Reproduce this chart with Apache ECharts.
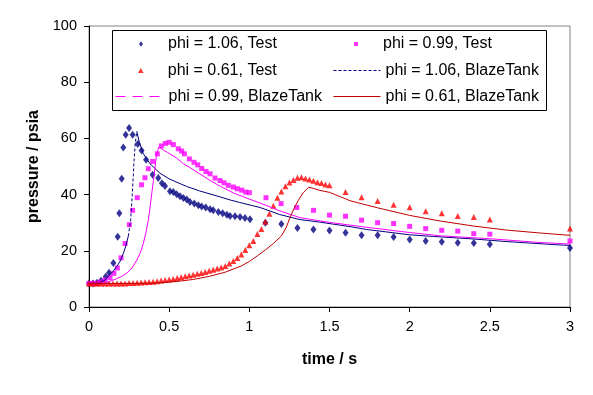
<!DOCTYPE html>
<html>
<head>
<meta charset="utf-8">
<script src="https://cdn.jsdelivr.net/npm/echarts@6/dist/echarts.min.js"></script>
<style>
html,body{margin:0;padding:0;background:#fff;}
#chart{width:593px;height:395px;}
</style>
</head>
<body>
<div id="chart"></div>
<script>
// ---- data (time / s, pressure / psia) ----
const seriesNames = [
  'phi = 1.06, Test', 'phi = 0.99, Test', 'phi = 0.61, Test',
  'phi = 1.06, BlazeTank', 'phi = 0.99, BlazeTank', 'phi = 0.61, BlazeTank'
];
const xTickValues = [0, 0.5, 1, 1.5, 2, 2.5, 3];
const yTickValues = [0, 20, 40, 60, 80, 100];

const test106 = [
  [0,8.4],[0.025,8.4],[0.05,8.6],[0.075,9.3],[0.104,10.8],[0.125,12.2],[0.152,15.7],[0.179,25],
  [0.189,33.4],[0.204,45.6],[0.214,56.8],[0.229,61.3],[0.25,63.7],[0.272,61.3],[0.304,58],
  [0.328,55.7],[0.356,52.4],[0.397,47.1],[0.432,45.9],[0.455,44],[0.474,43.1],[0.505,41.2],
  [0.526,40.9],[0.547,40.1],[0.568,39.4],[0.589,38.8],[0.61,38.3],[0.63,37.4],[0.657,36.8],
  [0.682,36.2],[0.703,35.8],[0.728,35.4],[0.755,34.8],[0.775,34.4],[0.807,33.8],[0.834,33.4],
  [0.86,32.8],[0.88,32.4],[0.911,32.3],[0.942,32],[0.973,31.7],[1.004,31.2],[1.1,30],[1.2,29.5],
  [1.3,28.1],[1.4,27.6],[1.5,27.2],[1.6,26.4],[1.7,25.5],[1.8,25.5],[1.9,24.9],[2.0,24.0],
  [2.1,23.5],[2.2,23.2],[2.3,22.9],[2.4,22.8],[2.5,22.3],[3.0,21.0]
];
const test099 = [
  [0,8.4],[0.025,8.4],[0.05,8.5],[0.075,8.9],[0.1,9.6],[0.131,10.5],[0.155,12],[0.177,13.9],
  [0.2,17.5],[0.225,22.6],[0.252,29.3],[0.272,34.4],[0.301,38.9],[0.328,43.5],[0.349,46],
  [0.37,49.2],[0.397,51.8],[0.426,54.5],[0.451,57.3],[0.476,58.2],[0.5,58.6],[0.526,57.8],
  [0.557,56.3],[0.578,55.5],[0.595,54.5],[0.626,52.7],[0.655,51.5],[0.678,50.6],[0.703,49.3],
  [0.73,48.2],[0.755,47.4],[0.786,45.9],[0.817,45],[0.842,44.2],[0.869,43.3],[0.9,42.7],
  [0.925,42.1],[0.952,41.6],[0.977,40.9],[1.0,40.7],[1.104,38.9],[1.198,36.8],[1.296,35.4],
  [1.4,34.4],[1.5,32.7],[1.6,32.3],[1.7,30.9],[1.8,30],[1.9,29.7],[2.0,28.7],[2.1,27.9],
  [2.2,27.3],[2.3,27],[2.4,26.1],[2.5,25.9],[3.0,23.5]
];
const test061 = [
  [0,8.4],[0.025,8.4],[0.05,8.4],[0.075,8.4],[0.1,8.4],[0.125,8.4],[0.15,8.4],[0.175,8.4],
  [0.2,8.4],[0.225,8.4],[0.25,8.5],[0.275,8.5],[0.3,8.6],[0.325,8.7],[0.35,8.8],[0.375,8.9],
  [0.4,9.0],[0.425,9.2],[0.45,9.4],[0.475,9.6],[0.5,9.8],[0.525,10.0],[0.55,10.3],[0.575,10.6],
  [0.6,10.9],[0.625,11.2],[0.65,11.5],[0.675,11.8],[0.7,12.1],[0.725,12.5],[0.75,12.9],
  [0.775,13.3],[0.8,13.7],[0.825,14.1],[0.85,14.6],[0.875,15.5],[0.9,16.4],[0.925,17.4],
  [0.95,18.7],[0.975,20.3],[1.0,22.0],[1.025,23.5],[1.05,26.0],[1.075,27.8],[1.1,30.3],
  [1.125,33.2],[1.15,36.0],[1.175,38.9],[1.2,41.1],[1.225,43.0],[1.25,44.3],[1.275,45.2],
  [1.3,46.0],[1.325,46.2],[1.35,45.7],[1.375,45.4],[1.4,44.9],[1.425,44.4],[1.45,44.1],
  [1.475,43.6],[1.5,43.3],[1.6,40.9],[1.7,39.1],[1.8,37.7],[1.9,36.4],[2.0,35.5],[2.1,34.1],
  [2.2,33.4],[2.3,32.4],[2.4,32.0],[2.5,31.1],[3.0,27.9]
];
const blaze106 = [
  [0,8.4],[0.06,8.5],[0.1,9.6],[0.125,11.2],[0.15,12.7],[0.172,14.3],[0.195,16.4],[0.214,19],
  [0.23,21.8],[0.245,25.2],[0.26,31],[0.27,40],[0.281,52],[0.288,58],[0.298,62.5],[0.314,58.6],
  [0.339,54.5],[0.38,51],[0.443,47.6],[0.5,45.6],[0.568,43.9],[0.609,42.9],[0.69,41.3],
  [0.817,39.2],[0.88,38.1],[0.94,37.2],[1.067,35.4],[1.19,32.9],[1.316,31.1],[1.44,30.2],
  [1.628,28.6],[1.73,27.6],[2.0,25.7],[2.15,25.1],[2.4,24.2],[2.6,23.3],[2.9,22.2],[3.0,21.9]
];
const blaze099 = [
  [0,8.4],[0.1,8.6],[0.152,9.6],[0.2,10.8],[0.235,12],[0.27,14],[0.298,16.7],[0.32,19.3],
  [0.339,22.6],[0.355,26.5],[0.37,30.9],[0.381,35.5],[0.391,40.3],[0.402,45],[0.412,49.8],
  [0.42,53.5],[0.428,55.7],[0.437,57],[0.446,56.8],[0.47,55.6],[0.49,55],[0.547,53],[0.588,51],
  [0.63,49.6],[0.69,47.4],[0.797,43.6],[0.9,40.6],[1.0,38.4],[1.067,37.0],[1.2,34],[1.316,31.8],
  [1.5,30.1],[1.7,28.6],[2.0,26.5],[2.2,25.3],[2.5,24.3],[2.8,23],[3.0,22.4]
];
const blaze061 = [
  [0,8.4],[0.3,8.4],[0.45,8.6],[0.55,9.1],[0.65,9.8],[0.75,10.9],[0.85,12.4],[0.95,14.6],
  [1.0,16.2],[1.05,18.2],[1.1,20.3],[1.15,22.6],[1.2,25.3],[1.23,28.3],[1.255,32],[1.28,35.2],
  [1.306,38],[1.335,40.6],[1.37,42.6],[1.4,42.2],[1.44,41.5],[1.5,40.8],[1.63,37.8],[1.71,36.6],
  [1.8,35.3],[1.94,33.4],[2.0,32.6],[2.19,30.6],[2.4,28.8],[2.6,27.4],[2.8,26.4],[3.0,25.5]
];

// ---- styling ----
const NAVY = '#000080', MAG = '#FF00FF', RED = '#FF0000', DRED = '#C00000';
const FONT = '"Liberation Sans", Arial, sans-serif';
const LEGEND_FONT = 16;

// steep rise of the 1.06 BlazeTank curve shows its dash pattern
const riseStart = 9, riseEnd = 14;

const chart = echarts.init(document.getElementById('chart'), null, {renderer: 'canvas'});

function legendText(padLeft) {
  return {fontSize: LEGEND_FONT, fontFamily: FONT, color: '#000', lineHeight: 20,
          padding: [0, 0, 0, padLeft]};
}
function legendItem(name, left, centerY, opts) {
  return Object.assign({
    data: [name], left: left, top: centerY - 10, orient: 'horizontal',
    padding: 0, itemGap: 0, selectedMode: false, z: 6, symbolKeepAspect: true,
    itemWidth: 44, itemHeight: 5,
    textStyle: legendText(0)
  }, opts || {});
}
const lineLegend = {itemHeight: 10, itemStyle: {opacity: 0, borderWidth: 0},
                    lineStyle: {width: 1}};

const option = {
  animation: false,
  backgroundColor: '#fff',
  grid: {left: 89, top: 26, width: 481, height: 281, show: true,
         borderColor: '#808080', borderWidth: 1, backgroundColor: 'transparent',
         containLabel: false, outerBoundsMode: 'none'},
  xAxis: {
    type: 'value', min: 0, max: 3, interval: 0.5,
    name: 'time / s', nameLocation: 'middle', nameGap: 45,
    nameTextStyle: {fontSize: 16, fontWeight: 'bold', fontFamily: FONT, color: '#000'},
    axisLine: {show: true, onZero: false, lineStyle: {color: '#000', width: 1}},
    axisTick: {show: true, inside: false, length: 5, lineStyle: {color: '#000'}},
    axisLabel: {fontSize: 14.5, fontFamily: FONT, color: '#000', margin: 12,
                customValues: xTickValues},
    splitLine: {show: false}
  },
  yAxis: {
    type: 'value', min: 0, max: 100, interval: 20,
    name: 'pressure / psia', nameLocation: 'middle', nameGap: 33, nameRotate: 90,
    nameTextStyle: {fontSize: 16, fontWeight: 'bold', fontFamily: FONT, color: '#000'},
    axisLine: {show: true, onZero: false, lineStyle: {color: '#000', width: 1}},
    axisTick: {show: true, inside: false, length: 5, lineStyle: {color: '#000'}},
    axisLabel: {fontSize: 14.5, fontFamily: FONT, color: '#000', margin: 12,
                customValues: yTickValues},
    splitLine: {show: false}
  },
  graphic: [{
    type: 'rect', z: 5, silent: true,
    shape: {x: 112.5, y: 30.5, width: 434, height: 80},
    style: {fill: '#fff', stroke: '#000', lineWidth: 1}
  }],
  legend: [
    legendItem(seriesNames[0], 139, 44, {icon: 'path://M5,0L10,7L5,14L0,7Z',
      itemWidth: 4, itemHeight: 6, textStyle: legendText(20)}),
    legendItem(seriesNames[1], 354, 44, {icon: 'path://M0,0H10V10H0Z',
      itemWidth: 4, itemHeight: 4, textStyle: legendText(20)}),
    legendItem(seriesNames[2], 138, 70.5, {icon: 'path://M5,0L10,9H0Z',
      itemWidth: 6, itemHeight: 5, textStyle: legendText(19)}),
    legendItem(seriesNames[3], 333, 70.5, Object.assign({itemWidth: 47}, lineLegend)),
    legendItem(seriesNames[4], 115, 96.5, Object.assign({itemWidth: 44,
      textStyle: legendText(4)}, lineLegend)),
    legendItem(seriesNames[5], 333, 96.5, Object.assign({itemWidth: 47}, lineLegend))
  ],
  series: [
    {name: seriesNames[0], type: 'scatter', data: test106, symbol: 'diamond', symbolSize: [6, 8],
     itemStyle: {color: NAVY}, silent: true, z: 2},
    {name: seriesNames[1], type: 'scatter', data: test099, symbol: 'rect', symbolSize: 5,
     itemStyle: {color: MAG}, silent: true, z: 2},
    {name: seriesNames[2], type: 'scatter', data: test061, symbol: 'triangle', symbolSize: 6,
     itemStyle: {color: RED}, silent: true, z: 2},
    // 1.06 BlazeTank: dashed steep rise (legend entry) + solid dense parts
    {name: seriesNames[3], type: 'line', data: blaze106.slice(riseStart, riseEnd + 1),
     symbol: 'none', showSymbol: false, silent: true, z: 3,
     lineStyle: {color: NAVY, width: 1, type: [3, 2]}, itemStyle: {color: NAVY}},
    {name: '_b106a', type: 'line', data: blaze106.slice(0, riseStart + 1),
     symbol: 'none', showSymbol: false, silent: true, z: 3,
     lineStyle: {color: NAVY, width: 1}},
    {name: '_b106b', type: 'line', data: blaze106.slice(riseEnd),
     symbol: 'none', showSymbol: false, silent: true, z: 3,
     lineStyle: {color: NAVY, width: 1}},
    // 0.99 BlazeTank: legend shows long dashes, dense curve looks solid
    {name: seriesNames[4], type: 'line', data: [],
     symbol: 'none', showSymbol: false, silent: true,
     lineStyle: {color: MAG, width: 1, type: [10, 7]}, itemStyle: {color: MAG}},
    {name: '_b099', type: 'line', data: blaze099,
     symbol: 'none', showSymbol: false, silent: true, z: 3,
     lineStyle: {color: MAG, width: 1}},
    {name: seriesNames[5], type: 'line', data: blaze061,
     symbol: 'none', showSymbol: false, silent: true, z: 3,
     lineStyle: {color: DRED, width: 1}, itemStyle: {color: DRED}}
  ]
};
chart.setOption(option);
</script>
</body>
</html>
